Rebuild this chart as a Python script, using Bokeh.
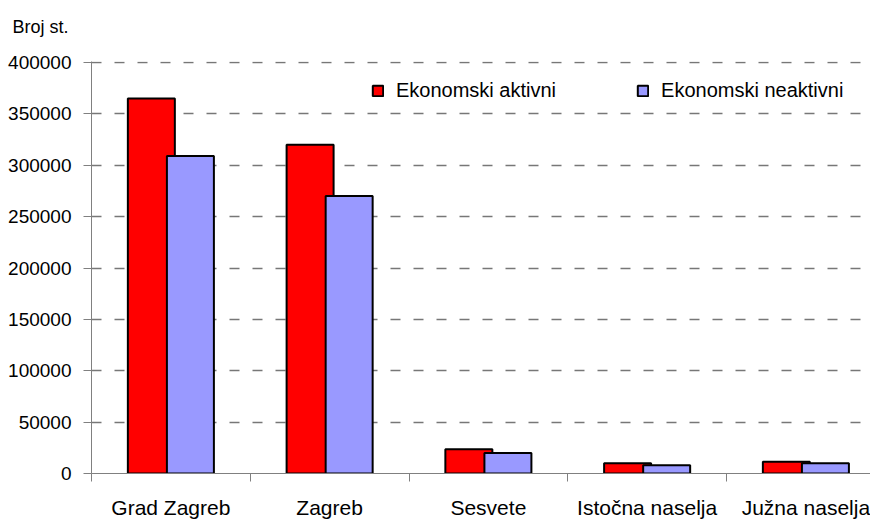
from bokeh.plotting import figure
from bokeh.models import (Range1d, FixedTicker, NumeralTickFormatter, Title,
                          Legend, LegendItem, ColumnDataSource)
from bokeh.embed import file_html
from bokeh.resources import INLINE

categories = ["Grad Zagreb", "Zagreb", "Sesvete", "Istočna naselja", "Južna naselja"]
aktivni = [365000, 320000, 23500, 10000, 11500]
neaktivni = [309000, 270000, 20000, 8000, 10000]
y_ticks = [0, 50000, 100000, 150000, 200000, 250000, 300000, 350000, 400000]
series_names = ["Ekonomski aktivni", "Ekonomski neaktivni"]
y_title = "Broj st."

FONT = "Liberation Sans"
n = len(categories)
centers = [i + 0.5 for i in range(n)]
offset = 0.123
bar_w = 0.296

p = figure(width=870, height=522, output_backend="svg", toolbar_location=None,
           x_range=Range1d(0, 4.907), y_range=Range1d(0, 401000),
           min_border_left=91, min_border_right=0, min_border_top=61,
           min_border_bottom=49)
p.outline_line_color = None
p.background_fill_color = "white"
p.border_fill_color = "white"

src_a = ColumnDataSource(dict(x=[c - offset for c in centers], top=aktivni))
src_n = ColumnDataSource(dict(x=[c + offset for c in centers], top=neaktivni))
r_a = p.vbar(x="x", top="top", width=bar_w, bottom=0, source=src_a,
             fill_color="#FF0000", line_color="black", line_width=2)
r_n = p.vbar(x="x", top="top", width=bar_w, bottom=0, source=src_n,
             fill_color="#9999FF", line_color="black", line_width=2)

# grid
p.xgrid.grid_line_color = None
p.ygrid.ticker = FixedTicker(ticks=y_ticks)
p.ygrid.grid_line_color = "#777777"
p.ygrid.grid_line_dash = "10 13"
p.ygrid.grid_line_width = 1.3
p.ygrid.level = "underlay"

# y axis
p.yaxis.ticker = FixedTicker(ticks=y_ticks)
p.yaxis.formatter = NumeralTickFormatter(format="0")
p.yaxis.axis_line_color = "#808080"
p.yaxis.major_tick_line_color = "#808080"
p.yaxis.major_tick_in = 0
p.yaxis.major_tick_out = 8
p.yaxis.minor_tick_line_color = None
p.yaxis.major_label_standoff = 12
p.yaxis.major_label_text_font = FONT
p.yaxis.major_label_text_font_size = "19px"
p.yaxis.major_label_text_color = "black"

# x axis
p.xaxis.ticker = FixedTicker(ticks=centers, minor_ticks=list(range(n)))
p.xaxis.major_label_overrides = {c: lab for c, lab in zip(centers, categories)}
p.xaxis.axis_line_color = "#808080"
p.xaxis.major_tick_line_color = None
p.xaxis.major_tick_in = 0
p.xaxis.major_tick_out = 8
p.xaxis.minor_tick_line_color = "#808080"
p.xaxis.minor_tick_in = 0
p.xaxis.minor_tick_out = 8
p.xaxis.major_label_standoff = 14
p.xaxis.major_label_text_font = FONT
p.xaxis.major_label_text_font_size = "21px"
p.xaxis.major_label_text_color = "black"

# y axis title (extra blank line lifts it towards the top edge)
p.add_layout(Title(text=y_title + "\n ", align="left", offset=-79, standoff=10,
                   text_font=FONT, text_font_size="18px",
                   text_font_style="normal", text_color="black"), "above")

legend = Legend(items=[LegendItem(label=series_names[0], renderers=[r_a]),
                       LegendItem(label=series_names[1], renderers=[r_n])],
                orientation="horizontal", location=(280, 371),
                glyph_width=13, glyph_height=13, label_standoff=12, spacing=80,
                padding=0, margin=0, border_line_color=None,
                background_fill_alpha=0,
                label_text_font=FONT, label_text_font_size="20px",
                label_text_color="black")
p.add_layout(legend)

html = file_html(p, INLINE)
open("out.html", "w").write(html)
